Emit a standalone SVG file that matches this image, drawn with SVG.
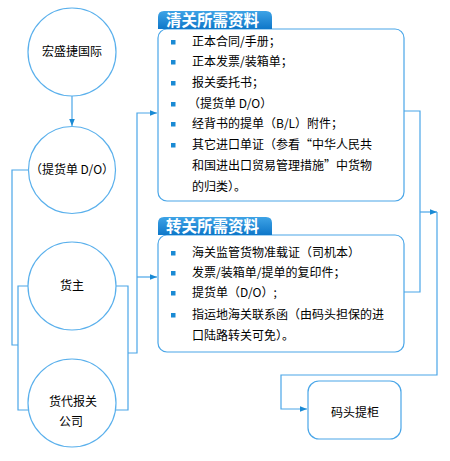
<svg xmlns="http://www.w3.org/2000/svg" width="450" height="461" viewBox="0 0 450 461">
<style>
.c{fill:#fff;stroke:#5ab0ec;stroke-width:1.2}
.b{fill:#fff;stroke:#4aa6e8;stroke-width:1.2}
.ln{fill:none;stroke:#4aa6e8;stroke-width:1.2}
.t{font-family:"Noto Sans CJK SC","Liberation Sans",sans-serif;font-size:12px;fill:#000}
.m{text-anchor:middle}
.h{font-family:"Noto Sans CJK SC","Liberation Sans",sans-serif;font-size:15.5px;font-weight:bold;fill:#fff}
.bu{fill:#1a8ad4}
</style>
<defs>
<marker id="ar" viewBox="0 0 10 10" refX="10" refY="5" markerWidth="7" markerHeight="7" orient="auto" markerUnits="userSpaceOnUse">
<path d="M0,1 L10,5 L0,9 Z" fill="#1a8ad4"/>
</marker>
<linearGradient id="tg" x1="0" y1="0" x2="0" y2="1">
<stop offset="0" stop-color="#3ea3e6"/>
<stop offset="1" stop-color="#0e77c9"/>
</linearGradient>
</defs>
<g id="connectors">
<path class="ln" d="M72,96 V126" marker-end="url(#ar)"/>
<path class="ln" d="M28,170 H12 V345 H18"/>
<path class="ln" d="M28,286 H18 V410 H28"/>
<path class="ln" d="M116,286 H128 V410 H116"/>
<path class="ln" d="M128,353 H137 V113 H157" marker-end="url(#ar)"/>
<path class="ln" d="M137,277 H157" marker-end="url(#ar)"/>
<path class="ln" d="M404,111 H420 V292 H404"/>
<path class="ln" d="M420,212 H437" marker-end="url(#ar)"/>
<path class="ln" d="M437,212 V375 H281 V409 H307" marker-end="url(#ar)"/>
</g>
<g id="n1"><circle class="c" cx="72" cy="52" r="44"/><text class="t m" x="72" y="56">宏盛捷国际</text></g>
<g id="n2"><circle class="c" cx="72" cy="170" r="43.5"/><text class="t m" x="72" y="174">（提货单 D/O）</text></g>
<g id="n3"><circle class="c" cx="72" cy="286" r="44"/><text class="t m" x="72" y="290">货主</text></g>
<g id="n4"><circle class="c" cx="72" cy="403" r="44"/><text class="t m" x="73" y="406">货代报关</text><text class="t m" x="71" y="426">公司</text></g>
<g id="box1">
<rect class="b" x="158" y="29" width="246" height="172" rx="9"/>
<path d="M158,29 V17 Q158,11 164,11 H266 Q272,11 272,17 V29 Z" fill="url(#tg)"/>
<text class="h" x="166" y="26">清关所需资料</text>
<rect class="bu" x="171" y="40" width="4.5" height="4.5"/>
<rect class="bu" x="171" y="60" width="4.5" height="4.5"/>
<rect class="bu" x="171" y="81" width="4.5" height="4.5"/>
<rect class="bu" x="171" y="102" width="4.5" height="4.5"/>
<rect class="bu" x="171" y="122" width="4.5" height="4.5"/>
<rect class="bu" x="171" y="143" width="4.5" height="4.5"/>
<text class="t" x="192" y="46">正本合同/手册；</text>
<text class="t" x="192" y="66">正本发票/装箱单；</text>
<text class="t" x="192" y="87">报关委托书；</text>
<text class="t" x="188" y="108">（提货单 D/O）</text>
<text class="t" x="192" y="128">经背书的提单（B/L）附件；</text>
<text class="t" x="192" y="149">其它进口单证（参看“中华人民共</text>
<text class="t" x="192" y="170">和国进出口贸易管理措施”中货物</text>
<text class="t" x="192" y="191">的归类）。</text>
</g>
<g id="box2">
<rect class="b" x="158" y="235" width="246" height="117" rx="9"/>
<path d="M158,235 V223 Q158,217 164,217 H266 Q272,217 272,223 V235 Z" fill="url(#tg)"/>
<text class="h" x="166" y="232">转关所需资料</text>
<rect class="bu" x="171" y="251" width="4.5" height="4.5"/>
<rect class="bu" x="171" y="271" width="4.5" height="4.5"/>
<rect class="bu" x="171" y="291" width="4.5" height="4.5"/>
<rect class="bu" x="171" y="313" width="4.5" height="4.5"/>
<text class="t" x="192" y="257">海关监管货物准载证（司机本）</text>
<text class="t" x="192" y="277">发票/装箱单/提单的复印件；</text>
<text class="t" x="192" y="297">提货单（D/O）;</text>
<text class="t" x="192" y="319">指运地海关联系函（由码头担保的进</text>
<text class="t" x="192" y="340">口陆路转关可免）。</text>
</g>
<g id="n5"><rect class="b" x="308" y="381" width="93" height="58" rx="11"/><text class="t m" x="355" y="417">码头提柜</text></g>
</svg>
